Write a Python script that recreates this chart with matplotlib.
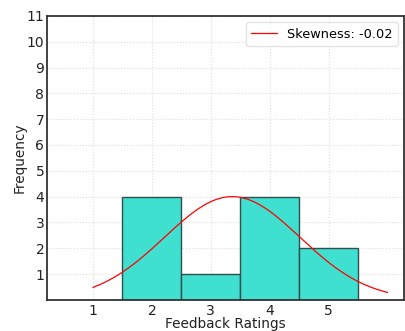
import numpy as np
import matplotlib
matplotlib.use("Agg")
import matplotlib.pyplot as plt

# Feedback ratings (raw data)
ratings = [2, 2, 2, 2, 3, 4, 4, 4, 4, 5, 5]
bin_edges = [1.5, 2.5, 3.5, 4.5, 5.5]
x_ticks = [1, 2, 3, 4, 5]
y_ticks = list(range(1, 12))

data = np.array(ratings, dtype=float)
mu = data.mean()
sd = data.std()
skew = np.mean((data - mu) ** 3) / sd ** 3

fig = plt.figure(figsize=(4.06, 3.31), dpi=100)
ax = fig.add_axes([0.116, 0.094, 0.879, 0.858])

counts, _, _ = ax.hist(data, bins=bin_edges, color="#40E0D0",
                       edgecolor="#2f4f4f", linewidth=1.0, zorder=2)

xs = np.linspace(data.min() - 1, data.max() + 1, 200)
curve = np.exp(-(xs - mu) ** 2 / (2 * sd ** 2))
curve = curve * counts.max()
ax.plot(xs, curve, color="red", linewidth=0.9, zorder=3,
        label="Skewness: %.2f" % skew)

ax.set_xlim(0.22, 6.28)
ax.set_ylim(0, 11)
ax.set_xticks(x_ticks)
ax.set_yticks(y_ticks)
ax.tick_params(length=0, labelsize=10, colors="#222222")
ax.tick_params(axis="y", pad=2)
ax.tick_params(axis="x", pad=3)
ax.grid(True, color="#dddddd", linestyle=":", linewidth=0.8, zorder=0)
ax.set_axisbelow(True)
for s in ax.spines.values():
    s.set_color("#333333")
    s.set_linewidth(1.3)

ax.set_xlabel("Feedback Ratings", fontsize=9.8, color="#222222", labelpad=-1)
ax.set_ylabel("Frequency", fontsize=9.8, color="#222222", labelpad=0)
ax.legend(loc="upper right", fontsize=9.3, frameon=True, framealpha=0.8,
          edgecolor="#dddddd", handlelength=2.0)

plt.savefig("out.png", dpi=100)
plt.close()
